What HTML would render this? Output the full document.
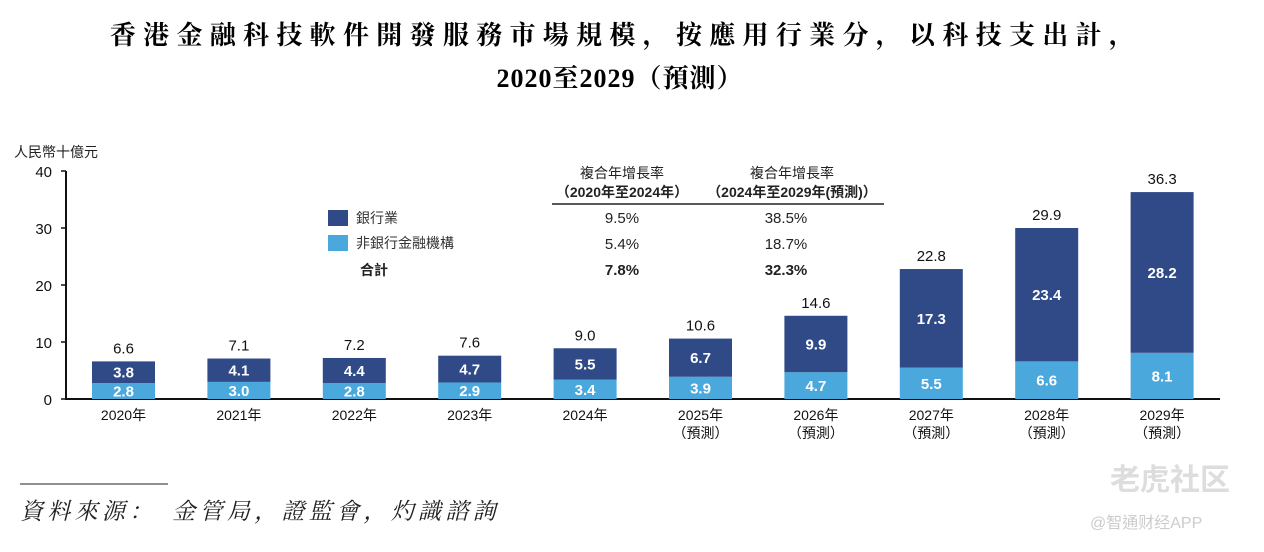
<!DOCTYPE html>
<html><head><meta charset="utf-8">
<style>
body{margin:0;background:#fff;width:1264px;height:552px;overflow:hidden;font-family:"Liberation Sans","Noto Sans CJK TC",sans-serif;}
svg{display:block}
</style></head>
<body>
<svg width="1264" height="552" id="chart">
<text x="626" y="44" text-anchor="middle" font-family="'Liberation Serif','Noto Serif CJK SC',serif" font-weight="bold" font-size="26" letter-spacing="7.3">香港金融科技軟件開發服務市場規模，按應用行業分，以科技支出計，</text>
<text x="620" y="87" text-anchor="middle" font-family="'Liberation Serif','Noto Serif CJK SC',serif" font-weight="bold" font-size="26" letter-spacing="1">2020至2029（預測）</text>
<text x="14" y="157" font-size="14" fill="#222">人民幣十億元</text>
<g id="axes"></g>
<g id="bars"></g>
<g>
<rect x="328" y="210" width="20" height="16" fill="#2f4a87"/>
<text x="356" y="223" font-size="14" fill="#333">銀行業</text>
<rect x="328" y="235" width="20" height="16" fill="#4ba8dc"/>
<text x="356" y="248" font-size="14" fill="#333">非銀行金融機構</text>
<text x="360" y="275" font-size="14" font-weight="bold" fill="#222">合計</text>
</g>
<g font-size="14" fill="#222" text-anchor="middle">
<text x="622" y="178">複合年增長率</text>
<text x="622" y="197" font-weight="bold">（2020年至2024年）</text>
<text x="792" y="178">複合年增長率</text>
<text x="792" y="197" font-weight="bold">（2024年至2029年(預測)）</text>
<line x1="552" y1="204" x2="884" y2="204" stroke="#222" stroke-width="1.5"/>
<text x="622" y="223" font-size="15">9.5%</text>
<text x="786" y="223" font-size="15">38.5%</text>
<text x="622" y="249" font-size="15">5.4%</text>
<text x="786" y="249" font-size="15">18.7%</text>
<text x="622" y="275" font-size="15" font-weight="bold">7.8%</text>
<text x="786" y="275" font-size="15" font-weight="bold">32.3%</text>
</g>
<line x1="20" y1="484" x2="168" y2="484" stroke="#222" stroke-width="1"/>
<text x="20" y="519" font-size="23" font-style="italic" letter-spacing="4.3" font-family="'Liberation Serif','Noto Serif CJK SC',serif" fill="#222">資料來源：　金管局，證監會，灼識諮詢</text>
<text x="1110" y="490" font-size="30" fill="#ddd" font-weight="bold">老虎社区</text>
<text x="1090" y="528" font-size="16" fill="#ccc">@智通财经APP</text>
</svg>
<script>
const years=["2020年","2021年","2022年","2023年","2024年","2025年","2026年","2027年","2028年","2029年"];
const forecast=[false,false,false,false,false,true,true,true,true,true];
const banking=[3.8,4.1,4.4,4.7,5.5,6.7,9.9,17.3,23.4,28.2];
const nonBanking=[2.8,3.0,2.8,2.9,3.4,3.9,4.7,5.5,6.6,8.1];
const totals=[6.6,7.1,7.2,7.6,9.0,10.6,14.6,22.8,29.9,36.3];
const yTicks=[0,10,20,30,40];
const NS="http://www.w3.org/2000/svg";
const y0=399,pxPer=5.7,xStart=123.5,step=115.4,bw=63;
const yS=v=>y0-v*pxPer, xS=i=>xStart+i*step;
function mk(tag,attrs,parent,txt){const e=document.createElementNS(NS,tag);for(const k in attrs)e.setAttribute(k,attrs[k]);if(txt!=null)e.textContent=txt;parent.appendChild(e);return e;}
const ax=document.getElementById('axes'),bg=document.getElementById('bars');
let l=mk('line',{x1:66,y1:yS(40),x2:66,y2:y0+1,stroke:'#111','stroke-width':2},ax);


l=mk('line',{x1:65,y1:y0,x2:1220,y2:y0,stroke:'#111','stroke-width':2},ax);


yTicks.forEach(t=>{
 let tk=mk('line',{x1:61,y1:yS(t),x2:66,y2:yS(t),stroke:'#111','stroke-width':1.5},ax);
 
 
 let tx=mk('text',{x:52,y:yS(t)+6,'text-anchor':'end','font-size':15,fill:'#111'},ax,String(t));
 
 
});
years.forEach((yr,i)=>{
 const cx=xS(i);
 let r=mk('rect',{x:cx-bw/2,y:yS(nonBanking[i]),width:bw,height:nonBanking[i]*pxPer,fill:'#4ba8dc'},bg);
 
 
 const top=nonBanking[i]+banking[i];
 r=mk('rect',{x:cx-bw/2,y:yS(top),width:bw,height:banking[i]*pxPer,fill:'#2f4a87'},bg);
 
 
 let t=mk('text',{x:cx,y:(yS(0)+yS(nonBanking[i]))/2+5.5,'text-anchor':'middle','font-size':15,'font-weight':'bold',fill:'#fff'},bg,nonBanking[i].toFixed(1));
 
 
 t=mk('text',{x:cx,y:(yS(nonBanking[i])+yS(top))/2+5.5,'text-anchor':'middle','font-size':15,'font-weight':'bold',fill:'#fff'},bg,banking[i].toFixed(1));
 
 
 t=mk('text',{x:cx,y:yS(top)-8,'text-anchor':'middle','font-size':15,fill:'#111'},bg,totals[i].toFixed(1));
 
 
 t=mk('text',{x:cx,y:420,'text-anchor':'middle','font-size':14,fill:'#111'},bg,yr);
 
 
 if(forecast[i]){
  t=mk('text',{x:cx,y:438,'text-anchor':'middle','font-size':14,fill:'#111'},bg,'（預測）');
  
  
 }
});
</script>
</body></html>
